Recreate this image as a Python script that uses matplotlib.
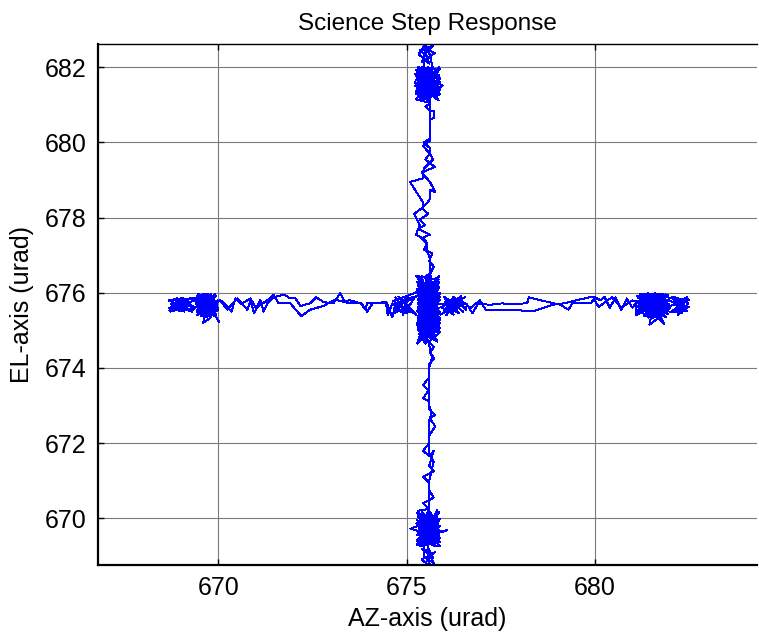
import numpy as np
import matplotlib
matplotlib.use("Agg")
import matplotlib.pyplot as plt

plt.rcParams["font.family"] = ["Liberation Sans", "DejaVu Sans"]

# ── data (AZ, EL) in urad ───────────────────────────────────────
center_a = [(675.55, 675.70), (675.85, 676.35), (675.30, 675.05), (675.88, 675.20),
            (675.28, 676.30), (675.70, 674.80), (675.40, 676.45), (675.80, 674.95),
            (675.32, 675.60), (675.89, 676.00), (675.45, 674.70), (675.60, 676.50),
            (675.29, 675.30), (675.84, 675.70), (675.38, 676.15), (675.75, 675.10),
            (675.50, 676.40), (675.86, 675.45), (675.30, 675.85), (675.66, 674.85),
            (675.42, 675.95), (675.82, 676.25), (675.34, 674.90), (675.72, 676.10),
            (675.48, 675.25), (675.88, 675.90), (675.28, 675.50), (675.62, 676.35),
            (675.78, 675.35), (675.36, 676.05),
            (674.65, 675.78), (675.25, 675.42), (674.78, 675.90), (675.15, 675.48),
            (674.68, 675.55), (675.05, 675.92), (674.90, 675.42), (675.20, 675.85),
            (674.72, 675.66), (675.10, 675.58), (674.90, 675.60), (674.70, 675.88),
            (675.00, 675.45), (674.82, 675.70), (675.18, 675.90), (674.95, 675.78),
            (674.66, 675.45), (675.12, 675.70), (674.85, 675.50), (674.62, 675.72)]

left_out = [(674.50, 675.40), (674.45, 675.75), (673.95, 675.72), (673.90, 675.56),
            (673.78, 675.72), (673.50, 675.80), (673.35, 675.78), (673.24, 675.99),
            (673.05, 675.72), (672.80, 675.75), (672.60, 675.88), (672.44, 675.72),
            (672.18, 675.65), (672.05, 675.85), (671.91, 675.85), (671.75, 675.95),
            (671.46, 675.88), (671.30, 675.72), (671.20, 675.50), (671.11, 675.82),
            (670.95, 675.45), (670.85, 675.80), (670.77, 675.55), (670.50, 675.85),
            (670.24, 675.55), (670.05, 675.80), (669.90, 675.70)]

left_blob = [(669.42, 675.40), (669.95, 675.92), (669.50, 675.95), (669.90, 675.38),
             (669.40, 675.70), (670.00, 675.60), (669.45, 675.90), (669.85, 675.45),
             (669.60, 675.98), (669.70, 675.35), (669.98, 675.80), (669.44, 675.55),
             (669.80, 675.96), (669.55, 675.42), (669.92, 675.50), (669.48, 675.82),
             (669.75, 675.40), (669.65, 675.95), (669.96, 675.70), (669.41, 675.62),
             (669.88, 675.90), (669.58, 675.37), (669.82, 675.65), (669.46, 675.98),
             (669.94, 675.42), (669.52, 675.68), (669.78, 675.88), (669.62, 675.45),
             (669.99, 675.55), (669.43, 675.85), (669.72, 675.92), (669.86, 675.40),
             (669.54, 675.78), (669.68, 675.58), (669.91, 675.96), (669.47, 675.48),
             (669.76, 675.72), (669.57, 675.88), (669.84, 675.52), (669.40, 675.76),
             (669.97, 675.66), (669.63, 675.36), (669.73, 675.98), (669.51, 675.58),
             (669.89, 675.84), (669.66, 675.50), (669.45, 675.66), (669.81, 675.35),
             (669.60, 675.20), (669.70, 675.75), (670.02, 675.22), (669.75, 675.70),
             (669.35, 675.80), (668.70, 675.52), (669.05, 675.86), (668.68, 675.80),
             (669.30, 675.50), (668.80, 675.65), (669.25, 675.86), (668.72, 675.50),
             (669.15, 675.60), (668.90, 675.86), (669.38, 675.62), (668.75, 675.70),
             (669.10, 675.50), (668.69, 675.60), (669.20, 675.75), (668.95, 675.52),
             (669.40, 675.86), (668.85, 675.80), (669.00, 675.62), (669.33, 675.55),
             (669.60, 675.80)]

left_fill = [(669.62, 675.52), (669.48, 675.74), (669.70, 675.88), (669.86, 675.62),
             (669.58, 675.46), (669.77, 675.58), (669.52, 675.92), (669.93, 675.78),
             (669.66, 675.40), (669.44, 675.48), (669.80, 675.74), (669.55, 675.64),
             (669.71, 675.50), (669.90, 675.66), (669.60, 675.86), (669.47, 675.60),
             (669.83, 675.48), (669.68, 675.96), (669.96, 675.52), (669.53, 675.38),
             (669.74, 675.66), (669.88, 675.86), (669.42, 675.92), (669.64, 675.72),
             (669.79, 675.44), (669.57, 675.54), (669.92, 675.94), (669.69, 675.84),
             (669.50, 675.50), (669.85, 675.70), (669.61, 675.62), (669.76, 675.92),
             (669.46, 675.72), (669.94, 675.60), (669.72, 675.46), (669.59, 675.80)]

left_back = [(670.10, 675.78), (670.35, 675.50), (670.45, 675.85), (670.60, 675.70),
             (670.85, 675.85), (671.00, 675.60), (671.30, 675.80), (671.46, 675.95),
             (671.60, 675.72), (671.91, 675.72), (672.20, 675.38), (672.44, 675.55),
             (672.79, 675.65), (673.10, 675.82), (673.24, 675.78), (673.50, 675.72),
             (673.80, 675.72), (673.95, 675.50), (674.10, 675.72), (674.48, 675.72),
             (674.62, 675.35), (674.70, 675.70)]

center_b = [(675.30, 675.92), (675.85, 675.15), (675.40, 674.75), (675.78, 676.40),
            (675.32, 675.35), (675.88, 675.80), (675.45, 676.25), (675.70, 674.90),
            (675.28, 676.10), (675.82, 675.55), (675.50, 674.65), (675.65, 676.45),
            (675.35, 675.15), (675.86, 676.15), (675.42, 675.65), (675.74, 675.00),
            (675.56, 676.30), (675.30, 675.70),
            (676.55, 675.72), (675.95, 675.45), (676.45, 675.92), (676.05, 675.40),
            (676.35, 675.85), (675.92, 675.62), (676.25, 675.42), (676.00, 675.90),
            (676.50, 675.50), (676.15, 675.80), (676.10, 675.60), (676.40, 675.45),
            (676.20, 675.70), (676.55, 675.88), (676.02, 675.75), (676.30, 675.55),
            (676.48, 675.80), (675.98, 675.50), (676.25, 675.90), (676.58, 675.55),
            (676.60, 675.70)]

right_out = [(676.75, 675.45), (676.90, 675.72), (677.20, 675.68), (677.55, 675.72),
             (677.70, 675.70), (678.20, 675.72), (678.25, 675.88), (678.90, 675.72),
             (679.05, 675.70), (679.30, 675.55), (679.40, 675.72), (679.90, 675.72),
             (680.00, 675.88), (680.15, 675.80), (680.25, 675.90), (680.40, 675.60),
             (680.55, 675.88), (680.70, 675.55), (680.85, 675.85), (681.00, 675.60),
             (681.10, 675.75)]

right_blob = [(681.10, 675.40), (681.95, 675.95), (681.20, 675.98), (681.90, 675.35),
              (681.08, 675.75), (682.00, 675.60), (681.15, 675.92), (681.85, 675.42),
              (681.40, 675.99), (681.55, 675.33), (681.98, 675.82), (681.12, 675.52),
              (681.70, 675.97), (681.30, 675.38), (681.92, 675.50), (681.18, 675.85),
              (681.62, 675.36), (681.45, 675.96), (681.96, 675.70), (681.09, 675.62),
              (681.80, 675.93), (681.35, 675.40), (681.75, 675.66), (681.22, 675.97),
              (681.94, 675.44), (681.28, 675.68), (681.68, 675.90), (681.50, 675.42),
              (681.99, 675.58), (681.14, 675.86), (681.58, 675.95), (681.82, 675.38),
              (681.32, 675.78), (681.52, 675.58), (681.88, 675.96), (681.16, 675.46),
              (681.66, 675.74), (681.38, 675.88), (681.78, 675.52), (681.11, 675.78),
              (681.97, 675.64), (681.42, 675.34), (681.60, 675.99), (681.26, 675.56),
              (681.86, 675.84), (681.48, 675.50), (681.20, 675.66), (681.72, 675.36),
              (681.45, 675.15), (681.56, 675.72), (681.84, 675.18), (681.36, 675.60),
              (681.64, 675.48), (681.24, 675.88), (681.90, 675.76), (681.44, 675.70),
              (681.76, 675.44), (681.30, 675.94),
              (682.50, 675.82), (682.00, 675.48), (682.45, 675.52), (682.05, 675.88),
              (682.30, 675.45), (682.48, 675.72), (682.10, 675.90), (682.38, 675.58),
              (682.20, 675.40), (682.44, 675.88), (682.02, 675.65), (682.35, 675.80),
              (682.15, 675.52), (682.50, 675.62), (681.95, 675.80), (681.70, 675.60)]

right_fill = [(681.40, 675.52), (681.22, 675.74), (681.58, 675.88), (681.80, 675.62),
              (681.35, 675.46), (681.66, 675.58), (681.28, 675.92), (681.90, 675.78),
              (681.52, 675.40), (681.14, 675.48), (681.74, 675.74), (681.46, 675.64),
              (681.62, 675.50), (681.86, 675.66), (681.42, 675.86), (681.18, 675.60),
              (681.78, 675.48), (681.56, 675.96), (681.94, 675.52), (681.30, 675.38),
              (681.68, 675.66), (681.84, 675.86), (681.12, 675.92), (681.50, 675.72),
              (681.72, 675.44), (681.38, 675.54), (681.92, 675.94), (681.60, 675.84),
              (681.24, 675.50), (681.82, 675.70), (681.48, 675.62), (681.70, 675.92),
              (681.20, 675.72), (681.96, 675.60), (681.64, 675.46), (681.44, 675.80),
              (681.54, 675.60), (681.32, 675.70), (681.76, 675.80), (681.88, 675.46)]

right_back = [(681.00, 675.80), (680.70, 675.60), (680.45, 675.88), (680.10, 675.62),
              (679.95, 675.90), (679.50, 675.80), (679.20, 675.72), (678.95, 675.70),
              (678.40, 675.52), (678.25, 675.52), (677.60, 675.55), (677.10, 675.55),
              (676.95, 675.80), (676.70, 675.60), (676.50, 675.75)]

center_c = [(675.90, 675.42), (675.35, 676.40), (675.80, 675.05), (675.30, 675.60),
            (675.86, 676.30), (675.45, 674.85), (675.72, 675.85), (675.28, 675.20),
            (675.84, 675.95), (675.52, 676.45), (675.62, 676.50)]

up_out = [(675.72, 676.70), (675.60, 676.85), (675.68, 677.05), (675.45, 677.15),
          (675.55, 677.30), (675.40, 677.45), (675.62, 677.55), (675.30, 677.70),
          (675.50, 677.80), (675.35, 677.95), (675.58, 678.10), (675.40, 678.25),
          (675.55, 678.40), (675.62, 678.50), (675.62, 678.75), (675.76, 678.68),
          (675.62, 678.95), (675.40, 679.20), (675.75, 679.35), (675.50, 679.55),
          (675.62, 679.70), (675.44, 679.90), (675.62, 680.05), (675.62, 680.60),
          (675.72, 680.65), (675.72, 680.85), (675.62, 680.85), (675.50, 680.95),
          (675.62, 681.05)]

top_blob = [(675.25, 681.15), (675.88, 681.95), (675.30, 682.00), (675.85, 681.12),
            (675.22, 681.60), (675.90, 681.45), (675.28, 681.90), (675.80, 681.20),
            (675.40, 682.02), (675.55, 681.10), (675.86, 681.80), (675.24, 681.35),
            (675.70, 682.00), (675.35, 681.18), (675.89, 681.62), (675.26, 681.75),
            (675.62, 681.14), (675.45, 681.97), (675.84, 681.30), (675.23, 681.50),
            (675.78, 681.92), (675.38, 681.25), (675.75, 681.55), (675.29, 681.95),
            (675.87, 681.38), (675.32, 681.68), (675.68, 681.85), (675.50, 681.28),
            (675.90, 681.72), (675.27, 681.85), (675.58, 682.00), (675.82, 681.16),
            (675.34, 681.78), (675.52, 681.48), (675.86, 682.00), (675.25, 681.28),
            (675.66, 681.66), (675.40, 681.86), (675.78, 681.42), (675.22, 681.82),
            (675.96, 681.52), (675.42, 681.12), (675.60, 681.96), (675.30, 681.44),
            (675.84, 681.88), (675.48, 681.40),
            (675.45, 682.30), (675.70, 682.58), (675.35, 682.45), (675.65, 682.22),
            (675.50, 682.62), (675.32, 682.35), (675.60, 682.10), (675.45, 682.52),
            (675.75, 682.38), (675.40, 682.15), (675.58, 682.48), (675.68, 682.05)]

top_fill = [(675.50, 681.40), (675.34, 681.62), (675.62, 681.80), (675.80, 681.50),
            (675.44, 681.26), (675.70, 681.36), (675.30, 681.88), (675.84, 681.70),
            (675.56, 681.18), (675.26, 681.30), (675.76, 681.64), (675.46, 681.52),
            (675.64, 681.30), (675.86, 681.46), (675.40, 681.78), (675.28, 681.48),
            (675.74, 681.22), (675.58, 681.92), (675.88, 681.28), (675.36, 681.14),
            (675.66, 681.56), (675.82, 681.84), (675.24, 681.94), (675.52, 681.66),
            (675.72, 681.26), (675.42, 681.42), (675.86, 681.96), (675.60, 681.74),
            (675.32, 681.34), (675.78, 681.60), (675.48, 681.58), (675.68, 681.92),
            (675.26, 681.66), (675.88, 681.40), (675.44, 681.70), (675.62, 681.05)]

up_back = [(675.62, 680.10), (675.45, 680.00), (675.62, 679.85), (675.62, 679.70),
           (675.70, 679.55), (675.45, 679.30), (675.44, 679.05), (675.09, 678.95),
           (675.44, 678.40), (675.44, 678.28), (675.20, 678.10), (675.35, 677.80),
           (675.25, 677.55), (675.50, 677.40), (675.55, 677.10), (675.62, 676.90),
           (675.62, 676.50)]

center_d = [(675.50, 675.40), (675.34, 675.80), (675.62, 676.20), (675.80, 675.60),
            (675.44, 675.00), (675.70, 675.30), (675.30, 676.30), (675.84, 676.00),
            (675.56, 674.85), (675.28, 675.15), (675.76, 675.90), (675.46, 675.55),
            (675.64, 675.10), (675.86, 675.35), (675.40, 676.10), (675.30, 675.50),
            (675.74, 674.90), (675.58, 676.40), (675.88, 675.05), (675.36, 674.75),
            (675.66, 675.75), (675.82, 676.35), (675.26, 676.45), (675.52, 676.00),
            (675.72, 675.20), (675.42, 675.30), (675.86, 676.45), (675.60, 675.95),
            (675.32, 675.00), (675.78, 675.65), (675.48, 675.85), (675.68, 676.30),
            (675.28, 676.00), (675.88, 675.50), (675.62, 674.95), (675.44, 676.20),
            (675.54, 675.60), (675.38, 675.45), (675.76, 676.15), (675.58, 675.25),
            (675.85, 675.60), (675.30, 675.00), (675.75, 674.80), (675.40, 675.85),
            (675.90, 675.30), (675.28, 674.65), (675.70, 675.95), (675.45, 674.90),
            (675.82, 674.70), (675.38, 675.40), (675.88, 674.95), (675.60, 674.70)]

down_out = [(675.72, 674.55), (675.62, 674.40), (675.74, 674.25), (675.60, 674.10),
            (675.60, 673.75), (675.44, 673.55), (675.58, 673.40), (675.44, 673.20),
            (675.60, 673.10), (675.60, 672.90), (675.75, 672.75), (675.62, 672.65),
            (675.76, 672.45), (675.60, 672.20), (675.60, 672.00), (675.44, 671.80),
            (675.60, 671.65), (675.72, 671.80), (675.60, 671.40), (675.72, 671.25),
            (675.44, 671.10), (675.60, 670.95), (675.60, 670.75), (675.72, 670.55),
            (675.44, 670.40), (675.60, 670.25)]

bottom_blob = [(675.30, 670.20), (675.88, 669.25), (675.28, 669.40), (675.86, 670.18),
               (675.35, 669.70), (675.90, 669.80), (675.30, 669.28), (675.82, 670.22),
               (675.45, 669.24), (675.60, 670.20), (675.87, 669.50), (675.28, 669.95),
               (675.72, 669.26), (675.40, 670.18), (675.89, 669.65), (675.28, 669.55),
               (675.65, 670.15), (675.50, 669.30), (675.84, 669.90), (675.32, 670.08),
               (675.78, 669.35), (675.42, 669.85), (675.10, 669.72), (675.56, 669.60),
               (676.07, 669.68), (675.36, 669.46), (675.74, 670.05), (675.30, 669.82),
               (675.86, 669.40), (675.48, 670.10), (675.70, 669.70), (675.28, 669.30),
               (675.80, 670.12), (675.52, 669.44), (675.88, 669.98), (675.38, 669.62),
               (675.66, 669.34), (675.44, 670.02), (675.82, 669.58), (675.34, 669.90),
               (675.62, 669.88), (675.46, 669.52),
               (675.45, 669.00), (675.72, 668.80), (675.55, 669.15), (675.62, 668.72),
               (675.40, 668.90), (675.75, 669.10), (675.50, 668.82), (675.68, 669.05),
               (675.42, 669.18), (675.70, 668.95), (675.58, 669.20)]

bottom_fill = [(675.50, 669.50), (675.34, 669.76), (675.62, 669.98), (675.80, 669.62),
               (675.44, 669.36), (675.70, 669.48), (675.30, 670.06), (675.84, 669.86),
               (675.56, 669.28), (675.28, 669.42), (675.76, 669.80), (675.46, 669.66),
               (675.64, 669.42), (675.86, 669.56), (675.40, 669.96), (675.30, 669.60),
               (675.74, 669.32), (675.58, 670.12), (675.88, 669.36), (675.36, 669.26),
               (675.66, 669.70), (675.82, 670.02), (675.28, 670.14), (675.52, 669.84),
               (675.72, 669.38), (675.42, 669.54), (675.86, 670.16), (675.60, 669.92),
               (675.32, 669.44), (675.78, 669.74), (675.48, 669.72), (675.68, 670.10),
               (675.26, 669.86), (675.88, 669.48), (675.44, 669.88), (675.60, 670.25)]

down_back = [(675.60, 671.00), (675.72, 671.50), (675.60, 671.75), (675.60, 672.60),
             (675.66, 672.80), (675.60, 673.00), (675.60, 674.00), (675.68, 674.30),
             (675.60, 674.60), (675.40, 675.30), (675.80, 675.90), (675.55, 675.65)]

segments = [center_a, left_out, left_blob, left_fill, left_back, center_b,
            right_out, right_blob, right_fill, right_back, center_c, up_out,
            top_blob, top_fill, up_back, center_d, down_out, bottom_blob,
            bottom_fill, down_back]
path = np.array([p for seg in segments for p in seg])
az, el = path[:, 0], path[:, 1]

x_ticks = [670, 675, 680]
y_ticks = [670, 672, 674, 676, 678, 680, 682]

# ── figure ──────────────────────────────────────────────────────
fig = plt.figure(figsize=(7.59, 6.38), dpi=100, facecolor="white")
ax = fig.add_axes([0.129, 0.114, 0.868, 0.817])

# MATLAB-like crisp 1px line
ax.plot(az, el, color="#0000ff", linewidth=0.7, antialiased=False)

ax.set_xlim(666.8, 684.3)
ax.set_ylim(668.75, 682.62)
ax.set_xticks(x_ticks)
ax.set_yticks(y_ticks)
ax.grid(True, color="#7a7a7a", linestyle="-", linewidth=0.8)
ax.set_axisbelow(True)

ax.tick_params(direction="in", length=4, width=1, top=True, right=False,
               labelsize=18, pad=8)
ax.spines["right"].set_visible(False)
ax.spines["left"].set_linewidth(1.6)
ax.spines["bottom"].set_linewidth(1.6)
ax.spines["top"].set_linewidth(1.0)

ax.set_title("Science Step Response", fontsize=17.5, pad=10)
ax.set_xlabel("AZ-axis (urad)", fontsize=18, labelpad=5)
ax.set_ylabel("EL-axis (urad)", fontsize=18, labelpad=8)

fig.savefig("out.png", dpi=100, facecolor="white")
